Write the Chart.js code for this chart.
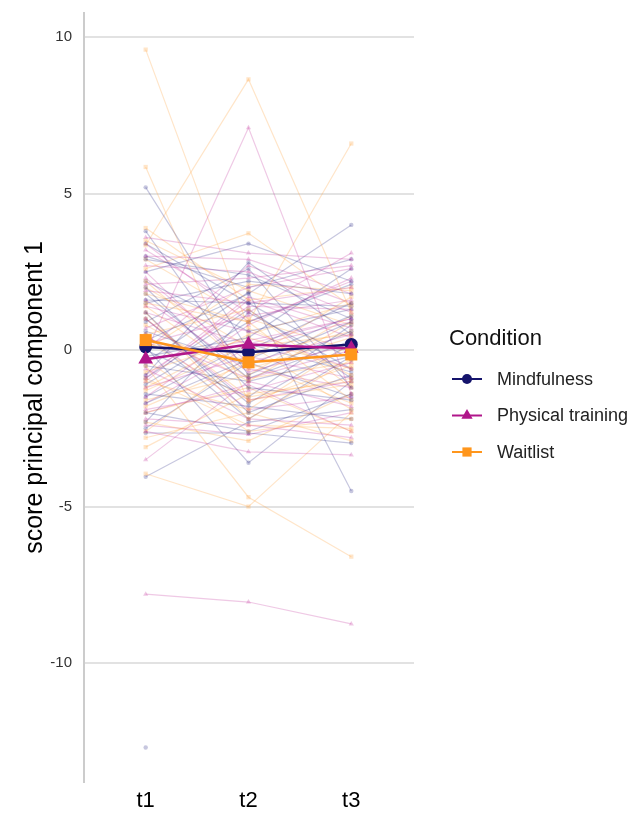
<!DOCTYPE html>
<html>
<head>
<meta charset="utf-8">
<script src="https://cdn.jsdelivr.net/npm/chart.js@4.4.0/dist/chart.umd.min.js"></script>
<style>
  html, body { margin: 0; padding: 0; background: #fff; }
</style>
</head>
<body>
<canvas id="chart" width="634" height="814"></canvas>
<script>
"use strict";

const timepoints = ["t1", "t2", "t3"];
const conditions = ["Mindfulness", "Physical training", "Waitlist"];
const yTicks = [-10, -5, 0, 5, 10];

// group means per timepoint
const meanMindfulness = [0.1, -0.07, 0.18];
const meanPhysical = [-0.29, 0.18, 0.05];
const meanWaitlist = [0.32, -0.39, -0.14];

// individual participants, one value per timepoint (null = missing)
const mindT1 = [5.2, -12.7, 3.8, 3.4, 2.9, 2.5, 2.0, 1.6, 1.5, 1.2, 0.9, 0.6, 0.3, 0.1, -0.2, -0.5, -0.8, -1.1, -1.4, -1.7, -2.0, -2.3, -2.65, -4.05, -0.4, 1.8, -1.5, 0.0, 2.2, -0.9, 1.0, -2.5, 3.0, 0.5];
const mindT2 = [0.0, null, -0.8, 1.5, 2.4, 3.4, -1.2, 1.5, 2.2, -2.0, 2.6, -0.5, 1.8, -3.6, 0.4, -1.0, 2.8, 0.9, -1.8, -0.3, -2.6, 1.2, -2.65, -2.3, 1.85, -0.9, 0.2, -1.5, 0.6, 1.3, -1.7, -0.4, 2.0, -2.2];
const mindT3 = [1.5, null, 0.6, -0.3, 1.0, 2.2, -1.6, 1.4, 1.8, -0.8, -1.2, 0.9, 4.0, -1.0, 2.6, -0.2, 0.5, 2.1, -2.2, 1.1, -1.4, -0.6, -2.97, -1.9, -4.5, 0.3, -0.7, 0.8, 1.3, -0.9, 0.2, -1.5, 2.9, -0.2];

const physT1 = [-0.1, -7.8, -2.6, -3.5, 3.6, 3.2, 2.7, 2.3, 1.9, 1.4, 1.0, 0.7, 0.4, 0.2, -0.3, -0.6, -0.9, -1.2, -1.5, -1.9, -2.2, 3.0, 1.6, -0.8, 0.5, -1.7, 2.1, -2.4, 1.2, -1.0, 2.5, -2.0, 0.0, 3.4];
const physT2 = [7.1, -8.05, -3.25, -1.0, 3.1, 1.2, 2.5, -0.4, 1.5, 0.6, -1.6, 2.0, -0.9, 1.1, 0.3, -2.2, 1.7, -0.2, 0.8, -1.3, -2.4, 2.9, -0.7, 1.4, -1.9, 0.1, 2.3, -2.7, 0.2, 1.6, -0.6, -1.1, 2.7, 0.9];
const physT3 = [-1.4, -8.75, -3.35, -1.8, 2.9, 3.1, 1.2, 0.5, 2.0, -0.6, -1.0, 2.6, 0.0, 1.6, 1.0, -2.4, 0.7, -0.9, 2.3, -0.4, -2.8, 1.8, 0.2, 1.3, -1.5, 0.9, 2.7, -2.0, 1.0, 0.4, -1.2, -2.6, 1.5, 2.2];

const waitT1 = [9.6, 3.35, 1.5, 5.85, 2.6, -0.5, -3.95, -3.1, 3.9, 2.2, 1.8, 1.2, 0.8, 0.5, 0.2, -0.3, -0.7, -1.0, -1.3, -1.6, -2.0, -2.3, -2.6, 0.0, 1.0, -0.9, 2.9, -1.8, 1.4, -1.2, 3.5, -2.8, 0.3, 2.0];
const waitT2 = [0.7, 8.65, 0.9, -1.65, 3.73, -4.7, -5.0, -1.4, 1.6, -0.6, 0.9, -2.2, -1.0, 1.3, -0.3, -2.6, 0.4, -1.9, 0.2, -0.8, -1.2, -2.9, -0.2, 2.1, -1.5, -2.4, 1.0, -0.4, -0.9, 0.5, 1.9, -2.0, -1.6, 0.1];
const waitT3 = [-0.8, 1.2, 6.6, -0.5, 1.4, -6.6, -2.0, -1.0, 2.0, 0.4, -1.6, -0.3, 0.9, -1.2, 1.7, -2.2, -0.6, 0.2, -1.9, 1.1, -2.6, -1.4, 0.6, 1.9, -0.9, -2.5, 0.0, -1.7, -0.4, 1.5, 0.8, -2.9, -1.1, 0.5];

const colors = ["#15146c", "#b0168a", "#ff961c"];
const faint = ["rgba(40,38,130,0.26)", "rgba(190,40,150,0.25)", "rgba(255,160,60,0.28)"];
const shapes = ["circle", "triangle", "rect"];
const FONT = '"Liberation Sans", Arial, Helvetica, sans-serif';

function toPoints(values) {
    return values.map((v, i) => ({ x: i + 1, y: v }));
}

let groups = [
    [mindT1, mindT2, mindT3],
    [physT1, physT2, physT3],
    [waitT1, waitT2, waitT3]
];
let means = [meanMindfulness, meanPhysical, meanWaitlist];

let datasets = [];
// means first so they are drawn on top (waitlist topmost)
[2, 1, 0].forEach(g => {
    datasets.push({
        label: conditions[g],
        data: toPoints(means[g]),
        borderColor: colors[g],
        backgroundColor: colors[g],
        borderWidth: 2.5,
        pointStyle: shapes[g],
        pointRadius: g === 0 ? 6.5 : 8.5,
        pointBorderWidth: 0,
        pointBackgroundColor: colors[g]
    });
});

let n = mindT1.length;
for (let i = 0; i < n; i++) {
    for (let g = 0; g < 3; g++) {
        let cols = groups[g];
        datasets.push({
            label: conditions[g] + " " + (i + 1),
            data: toPoints([cols[0][i], cols[1][i], cols[2][i]]),
            borderColor: faint[g],
            backgroundColor: faint[g],
            borderWidth: 1.2,
            pointStyle: shapes[g],
            pointRadius: g === 0 ? 2.2 : 3,
            pointBorderWidth: 0,
            pointBackgroundColor: faint[g],
            spanGaps: false
        });
    }
}

const legendPlugin = {
    id: "conditionLegend",
    afterDraw(chart) {
        const ctx = chart.ctx;
        ctx.save();
        ctx.textBaseline = "middle";
        ctx.textAlign = "left";
        ctx.fillStyle = "#111";
        ctx.font = "22px " + FONT;
        ctx.fillText("Condition", 449, 339);
        ctx.font = "18px " + FONT;
        conditions.forEach((name, i) => {
            let y = 379 + i * 36.5;
            ctx.strokeStyle = colors[i];
            ctx.fillStyle = colors[i];
            ctx.lineWidth = 2;
            ctx.beginPath();
            ctx.moveTo(452, y);
            ctx.lineTo(482, y);
            ctx.stroke();
            Chart.helpers.drawPoint(ctx, {
                pointStyle: shapes[i],
                radius: i === 0 ? 5 : 6.5,
                rotation: 0,
                borderWidth: 0
            }, 467, y);
            ctx.fillStyle = "#222";
            ctx.fillText(name, 497, y + 1);
        });
        ctx.restore();
    }
};

let ctx = document.getElementById("chart").getContext("2d");
let chart = new Chart(ctx, {
    type: "line",
    data: { datasets: datasets },
    plugins: [legendPlugin],
    options: {
        responsive: false,
        animation: false,
        devicePixelRatio: 1,
        layout: { autoPadding: false, padding: { left: 20, top: 13, right: 220, bottom: 0 } },
        plugins: {
            legend: { display: false },
            tooltip: { enabled: false }
        },
        scales: {
            x: {
                type: "linear",
                min: 0.4,
                max: 3.61,
                afterBuildTicks: s => { s.ticks = timepoints.map((t, i) => ({ value: i + 1 })); },
                afterFit: s => { s.height = 32; s.paddingLeft = 0; s.paddingRight = 0; },
                grid: { display: false, drawTicks: false },
                border: { display: false },
                ticks: {
                    callback: v => timepoints[v - 1],
                    color: "#000",
                    font: { size: 22, family: FONT },
                    padding: 6,
                    maxRotation: 0
                }
            },
            y: {
                type: "linear",
                min: -13.8,
                max: 10.77,
                afterBuildTicks: s => { s.ticks = yTicks.map(v => ({ value: v })); },
                afterFit: s => { s.width = 64; s.paddingTop = 0; s.paddingBottom = 0; },
                grid: { color: "#e2e2e2", lineWidth: 2, drawTicks: false },
                border: { display: true, color: "#cccccc", width: 2 },
                ticks: {
                    color: "#333",
                    font: { size: 15, family: FONT },
                    padding: 12
                },
                title: {
                    display: true,
                    text: "score principal component 1",
                    color: "#000",
                    font: { size: 25, family: FONT },
                    padding: 0
                }
            }
        }
    }
});
</script>
</body>
</html>
